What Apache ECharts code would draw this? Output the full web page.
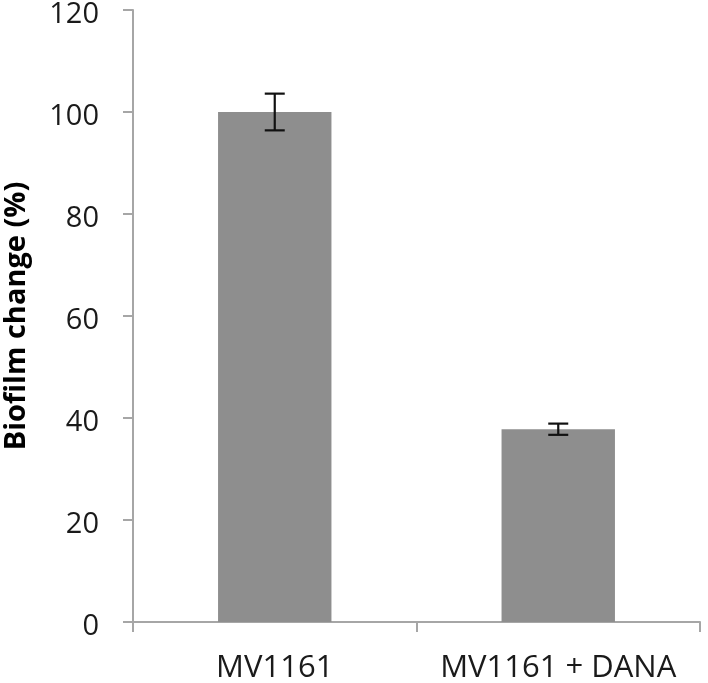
<!DOCTYPE html>
<html>
<head>
<meta charset="utf-8">
<script src="https://cdn.jsdelivr.net/npm/echarts@6/dist/echarts.min.js"></script>
<style>html,body{margin:0;padding:0;background:#fff}#c{width:708px;height:683px}</style>
</head>
<body>
<div id="c"></div>
<script>
const categories = ['MV1161', 'MV1161 + DANA'];
const values = [100, 37.8];
const errors = [3.6, 1.1];
const yTicks = [0, 20, 40, 60, 80, 100, 120];

const chart = echarts.init(document.getElementById('c'), null, {renderer: 'canvas'});
const axisColor = '#a6a6a6';
const font = '"Open Sans", sans-serif';
chart.setOption({
  animation: false,
  backgroundColor: '#ffffff',
  grid: {left: 133, right: 8, top: 10, bottom: 61, containLabel: false, outerBoundsMode: 'none'},
  xAxis: {
    type: 'category',
    data: categories,
    axisLine: {lineStyle: {color: axisColor, width: 2}},
    axisTick: {show: true, length: 10, lineStyle: {color: axisColor, width: 2}},
    axisLabel: {color: '#1a1a1a', fontFamily: font, fontSize: 31, margin: 31, interval: 0, hideOverlap: false}
  },
  yAxis: {
    type: 'value',
    min: yTicks[0],
    max: yTicks[yTicks.length - 1],
    interval: 20,
    name: 'Biofilm change (%)',
    nameLocation: 'middle',
    nameGap: 102,
    nameTextStyle: {color: '#000', fontFamily: font, fontWeight: 'bold', fontSize: 29},
    axisLine: {show: true, lineStyle: {color: axisColor, width: 2}},
    axisTick: {show: true, length: 10, lineStyle: {color: axisColor, width: 2}},
    splitLine: {show: false},
    axisLabel: {
      margin: 34,
      formatter: '{v|{value}}',
      rich: {v: {color: '#1a1a1a', fontFamily: font, fontSize: 29, padding: [9, 0, 0, 0]}}
    }
  },
  series: [
    {
      type: 'bar',
      data: values,
      barWidth: '40%',
      itemStyle: {color: '#8e8e8e'}
    },
    {
      type: 'custom',
      data: values.map((v, i) => [i, v - errors[i], v + errors[i]]),
      z: 10,
      renderItem: function (params, api) {
        const lo = api.coord([api.value(0), api.value(1)]);
        const hi = api.coord([api.value(0), api.value(2)]);
        const hw = 10;
        const style = {stroke: '#111', lineWidth: 2.2};
        return {
          type: 'group',
          children: [
            {type: 'line', shape: {x1: hi[0], y1: hi[1], x2: lo[0], y2: lo[1]}, style: style},
            {type: 'line', shape: {x1: hi[0] - hw, y1: hi[1], x2: hi[0] + hw, y2: hi[1]}, style: style},
            {type: 'line', shape: {x1: lo[0] - hw, y1: lo[1], x2: lo[0] + hw, y2: lo[1]}, style: style}
          ]
        };
      }
    }
  ]
});
</script>
</body>
</html>
